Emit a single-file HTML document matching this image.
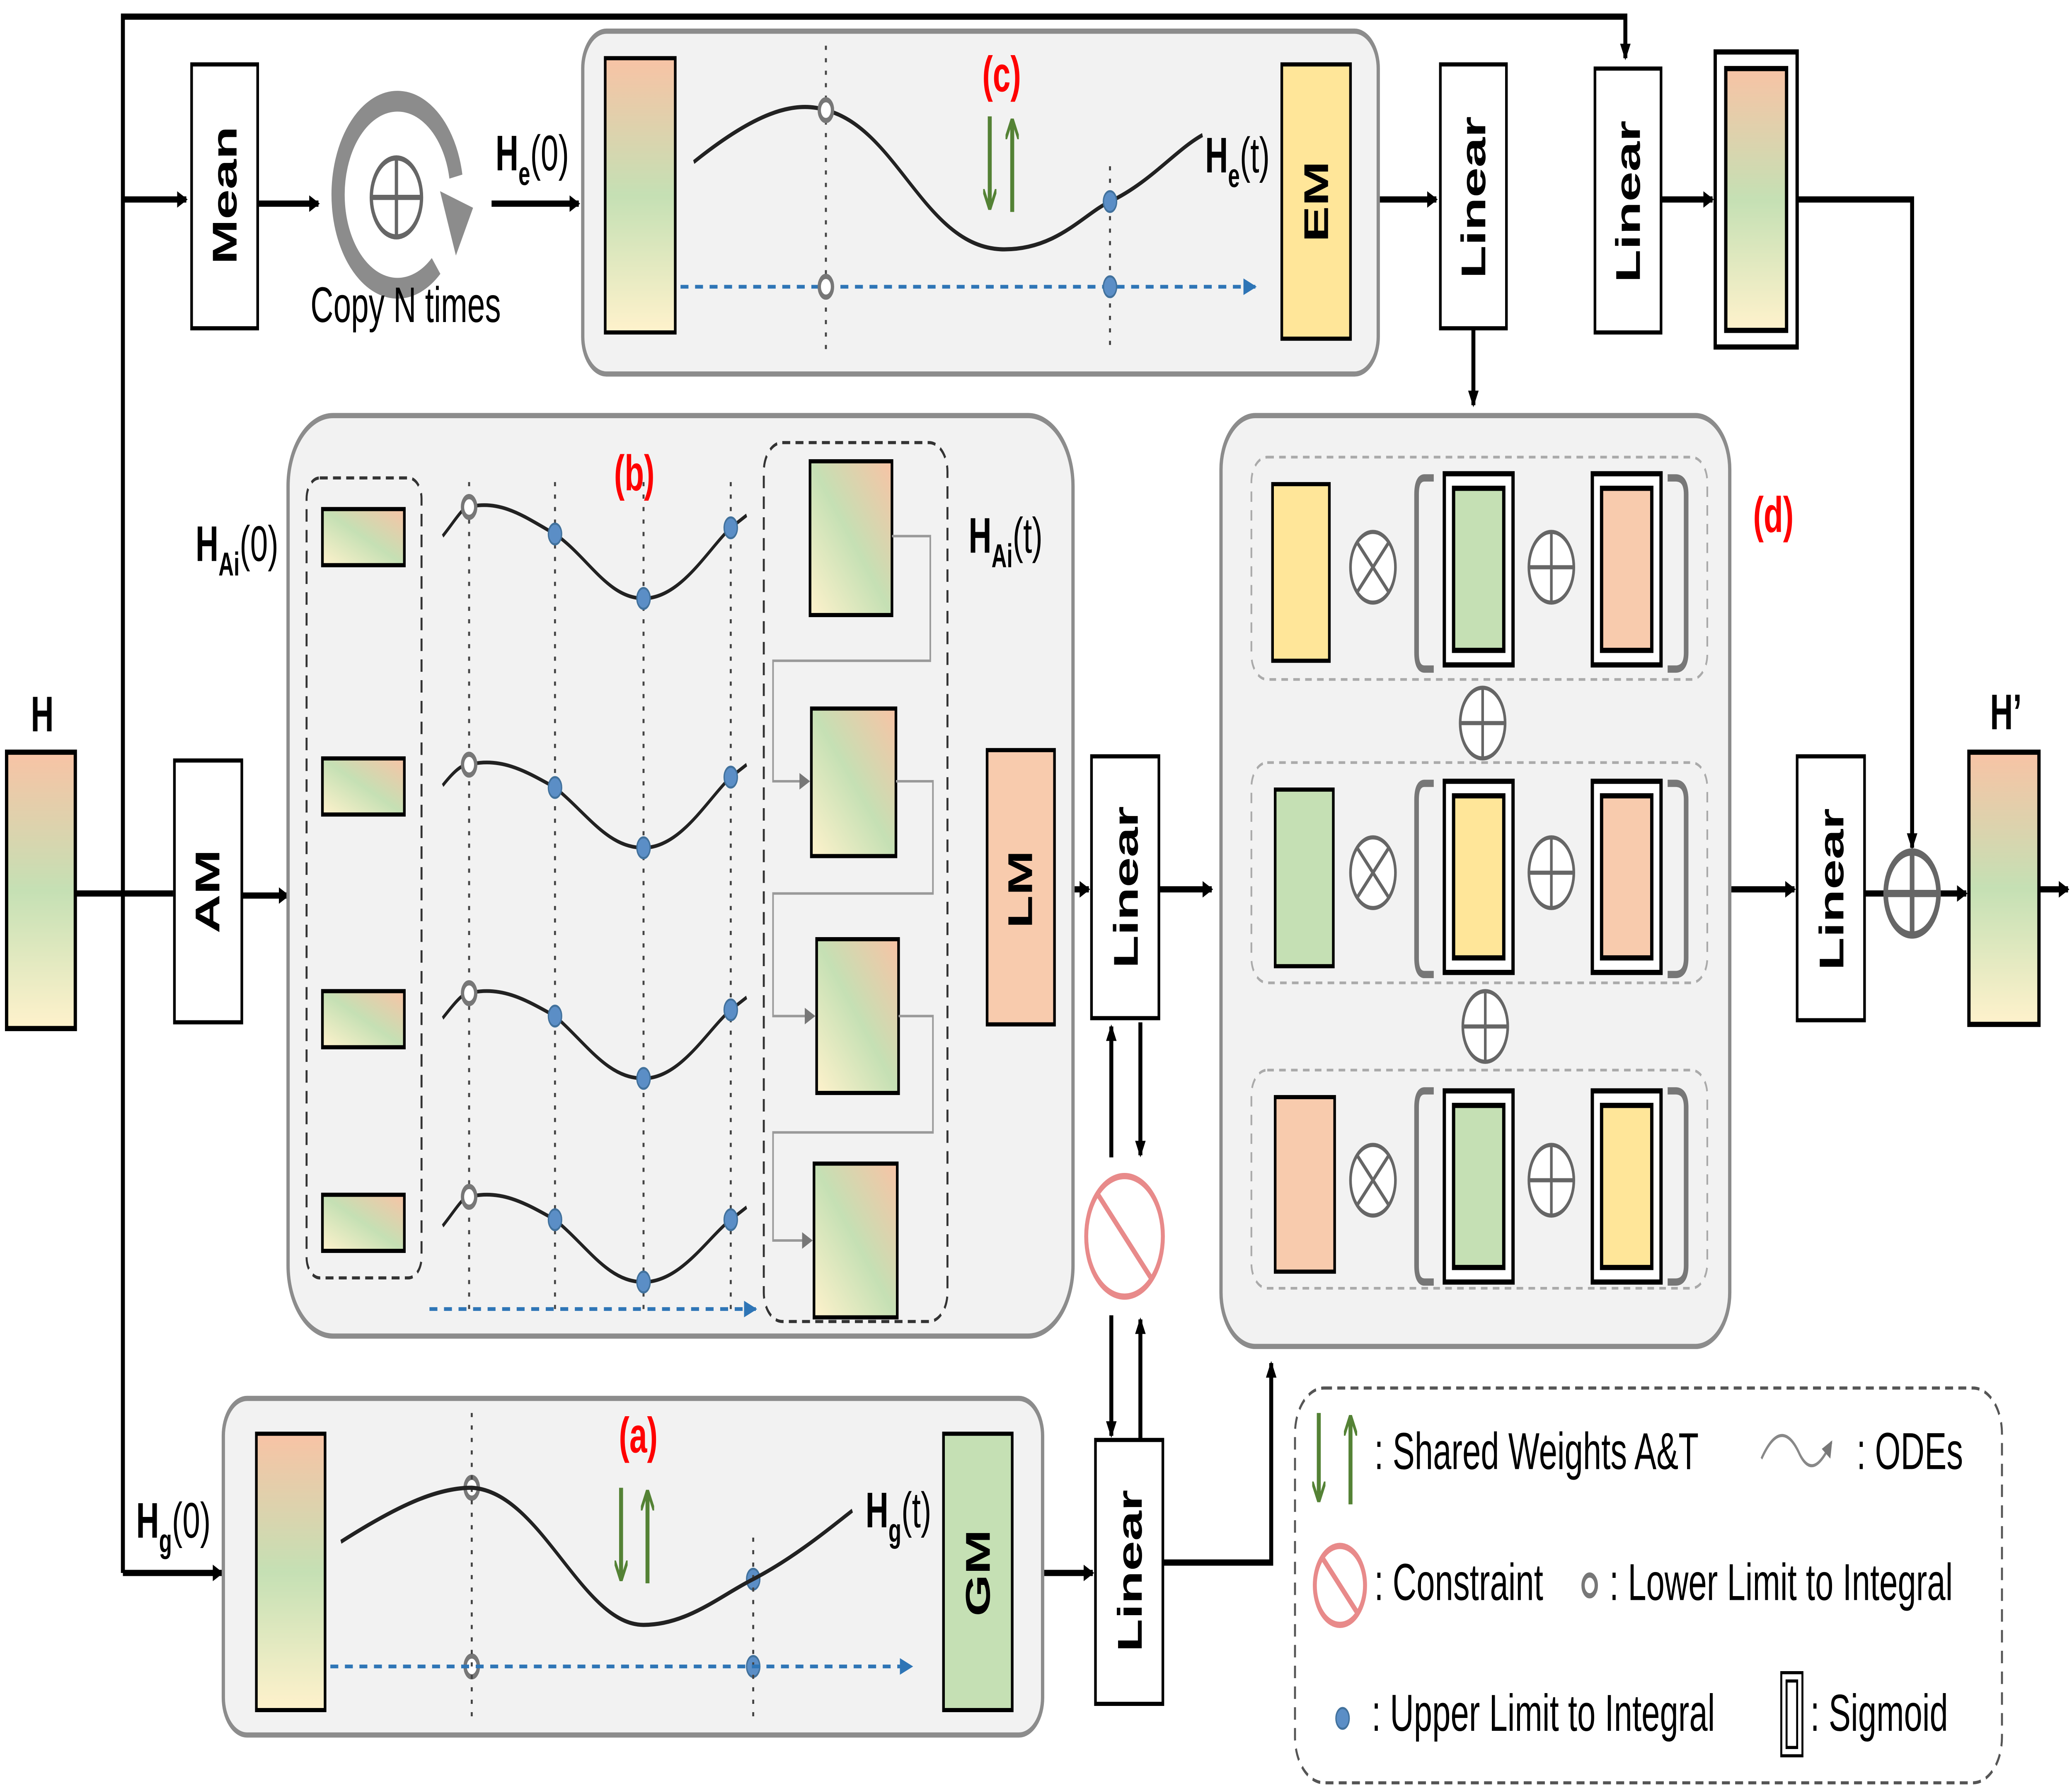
<!DOCTYPE html>
<html><head><meta charset="utf-8"><style>
html,body{margin:0;padding:0;background:#fff;width:100%;height:100%;overflow:hidden}
svg{display:block;width:100vw;height:100vh;position:absolute;left:0;top:0}
text{font-family:"Liberation Sans",sans-serif}
</style></head><body>
<svg viewBox="0 0 1568 860.5" preserveAspectRatio="none" xmlns="http://www.w3.org/2000/svg">
<defs>
<linearGradient id="g" x1="0" y1="0" x2="0" y2="1">
<stop offset="0" stop-color="#f8c3a5"/><stop offset="0.5" stop-color="#c5e0b4"/><stop offset="1" stop-color="#fff2cc"/></linearGradient>
<linearGradient id="gd" x1="1" y1="0" x2="0" y2="1">
<stop offset="0" stop-color="#f8c3a5"/><stop offset="0.5" stop-color="#c5e0b4"/><stop offset="1" stop-color="#fff2cc"/></linearGradient>
<marker id="a" markerWidth="8" markerHeight="8" refX="7" refY="4" orient="auto" markerUnits="userSpaceOnUse"><path d="M0,0 L8,4 L0,8z" fill="#000"/></marker>
<marker id="ab" markerWidth="10" markerHeight="8" refX="9" refY="4" orient="auto" markerUnits="userSpaceOnUse"><path d="M0,0 L10,4 L0,8z" fill="#2e75b6"/></marker>
<marker id="ag" markerWidth="8" markerHeight="8" refX="7" refY="4" orient="auto" markerUnits="userSpaceOnUse"><path d="M0,0 L8,4 L0,8z" fill="#777"/></marker>
<marker id="agr" markerWidth="10" markerHeight="10" refX="9" refY="5" orient="auto" markerUnits="userSpaceOnUse"><path d="M0,0 L10,5 L0,10" fill="none" stroke="#548235" stroke-width="2"/></marker>
</defs>
<g stroke="#000" stroke-width="3" fill="none">
<polyline points="93,757 93,8 1230,8 1230,28" marker-end="url(#a)"/>
<line x1="93" y1="96" x2="141" y2="96" marker-end="url(#a)"/>
<line x1="195" y1="98" x2="241" y2="98" marker-end="url(#a)"/>
<line x1="372" y1="98" x2="438" y2="98" marker-end="url(#a)"/>
<line x1="57" y1="430" x2="131" y2="430"/>
<line x1="183" y1="431" x2="218" y2="431" marker-end="url(#a)"/>
<line x1="93" y1="757" x2="168" y2="757" marker-end="url(#a)"/>
<line x1="1022" y1="96" x2="1087" y2="96" marker-end="url(#a)"/>
<line x1="1115" y1="158" x2="1115" y2="195" marker-end="url(#a)"/>
<line x1="1257" y1="96" x2="1296" y2="96" marker-end="url(#a)"/>
<polyline points="1360,96 1447,96 1447,408" marker-end="url(#a)"/>
<line x1="717" y1="428" x2="745" y2="428" marker-end="url(#a)"/>
<line x1="798" y1="428" x2="824" y2="428" marker-end="url(#a)"/>
<line x1="877" y1="428" x2="917" y2="428" marker-end="url(#a)"/>
<line x1="841" y1="557" x2="841" y2="494" marker-end="url(#a)"/>
<line x1="863" y1="492" x2="863" y2="556" marker-end="url(#a)"/>
<line x1="841" y1="633" x2="841" y2="691" marker-end="url(#a)"/>
<line x1="863" y1="693" x2="863" y2="635" marker-end="url(#a)"/>
<line x1="766" y1="757" x2="827" y2="757" marker-end="url(#a)"/>
<polyline points="880,752 962,752 962,656" marker-end="url(#a)"/>
<line x1="1302" y1="428" x2="1358" y2="428" marker-end="url(#a)"/>
<line x1="1411" y1="430" x2="1427" y2="430"/>
<line x1="1467" y1="430" x2="1488" y2="430" marker-end="url(#a)"/>
<line x1="1543" y1="428" x2="1565" y2="428" marker-end="url(#a)"/>
</g>
<rect x="441" y="15" width="602" height="165" rx="18" fill="#f2f2f2" stroke="#8c8c8c" stroke-width="2.5"/>
<rect x="218" y="200" width="594" height="443" rx="34" fill="#f2f2f2" stroke="#8c8c8c" stroke-width="2.5"/>
<rect x="169" y="673" width="620" height="162" rx="18" fill="#f2f2f2" stroke="#8c8c8c" stroke-width="2.5"/>
<rect x="924" y="200" width="385" height="448" rx="26" fill="#f2f2f2" stroke="#8c8c8c" stroke-width="2.5"/>
<rect x="980" y="668" width="535" height="190" rx="22" fill="#fff" stroke="#555" stroke-width="1.5" stroke-dasharray="6,4"/>
<rect x="5" y="362" width="52" height="133" fill="url(#g)" stroke="#000" stroke-width="2.5"/>
<rect x="1490" y="362" width="53" height="131" fill="url(#g)" stroke="#000" stroke-width="2.5"/>
<text x="32" y="352" font-size="24" font-weight="bold" text-anchor="middle">H</text>
<text x="1518" y="351" font-size="24" font-weight="bold" text-anchor="middle">H’</text>
<g fill="#fff" stroke="#000" stroke-width="2">
<rect x="145" y="31" width="50" height="127"/>
<rect x="132" y="366" width="51" height="126"/>
<rect x="1090" y="31" width="50" height="127"/>
<rect x="1207" y="33" width="50" height="127"/>
<rect x="826" y="364" width="51" height="126"/>
<rect x="829" y="693" width="51" height="127"/>
<rect x="1360" y="364" width="51" height="127"/>
</g>
<g font-size="26" font-weight="bold" text-anchor="middle">
<text transform="translate(179,94) rotate(-90)">Mean</text>
<text transform="translate(166,429) rotate(-90)">AM</text>
<text transform="translate(1124,95) rotate(-90)">Linear</text>
<text transform="translate(1241,97) rotate(-90)">Linear</text>
<text transform="translate(861,427) rotate(-90)">Linear</text>
<text transform="translate(864,756) rotate(-90)">Linear</text>
<text transform="translate(1395,428) rotate(-90)">Linear</text>
</g>
<path d="M330,128 A45,45 0 1 1 345,85" fill="none" stroke="#8c8c8c" stroke-width="10"/>
<path d="M333,92 L358,100 L345,123z" fill="#8c8c8c"/>
<circle cx="300" cy="95" r="19" fill="#fff" stroke="#666" stroke-width="2.5"/>
<path d="M281,95 H319 M300,76 V114" stroke="#666" stroke-width="2.5"/>
<text x="307" y="155" font-size="24" text-anchor="middle">Copy N times</text>
<text x="375" y="82" font-size="24" font-weight="bold">H<tspan font-size="16" dy="7">e</tspan><tspan dy="-7" font-weight="normal">(0)</tspan></text>
<rect x="458" y="28" width="53" height="132" fill="url(#g)" stroke="#000" stroke-width="2"/>
<g stroke="#444" stroke-width="1.5" stroke-dasharray="2,4"><line x1="625" y1="22" x2="625" y2="170"/><line x1="840" y1="80" x2="840" y2="170"/></g>
<path d="M525,78 C570,55 600,48 625,53 C680,62 700,120 760,120 C800,120 820,103 840,97 C870,88 890,72 910,65" fill="none" stroke="#222" stroke-width="2"/>
<line x1="515" y1="138" x2="950" y2="138" stroke="#2e75b6" stroke-width="1.8" stroke-dasharray="6,5" marker-end="url(#ab)"/>
<text x="758" y="44" font-size="24" font-weight="bold" fill="#ff0000" text-anchor="middle">(c)</text>
<g stroke="#548235" stroke-width="3"><line x1="749" y1="56" x2="749" y2="100" marker-end="url(#agr)"/><line x1="766" y1="102" x2="766" y2="58" marker-end="url(#agr)"/></g>
<text x="912" y="83" font-size="24" font-weight="bold">H<tspan font-size="16" dy="7">e</tspan><tspan dy="-7" font-weight="normal">(t)</tspan></text>
<rect x="970" y="31" width="52" height="132" fill="#ffe699" stroke="#000" stroke-width="2"/>
<text transform="translate(1005,97) rotate(-90)" font-size="26" font-weight="bold" text-anchor="middle">EM</text>
<text x="480" y="236" font-size="24" font-weight="bold" fill="#ff0000" text-anchor="middle">(b)</text>
<rect x="232" y="230" width="87" height="385" rx="10" fill="none" stroke="#333" stroke-width="1.5" stroke-dasharray="6,4"/>
<rect x="578" y="213" width="139" height="423" rx="14" fill="none" stroke="#333" stroke-width="1.5" stroke-dasharray="6,4"/>
<g fill="url(#gd)" stroke="#000" stroke-width="2">
<rect x="244" y="245" width="62" height="27"/><rect x="244" y="365" width="62" height="27"/><rect x="244" y="477" width="62" height="27"/><rect x="244" y="575" width="62" height="27"/>
<rect x="613" y="222" width="62" height="74"/><rect x="614" y="341" width="64" height="71"/><rect x="618" y="452" width="62" height="74"/><rect x="616" y="560" width="63" height="74"/>
</g>
<g stroke="#999" stroke-width="1.2" fill="none">
<polyline points="675,258 704,258 704,318 585,318 585,376 612,376" marker-end="url(#ag)"/>
<polyline points="678,376 706,376 706,430 585,430 585,489 616,489" marker-end="url(#ag)"/>
<polyline points="680,489 706,489 706,545 585,545 585,597 614,597" marker-end="url(#ag)"/>
</g>
<g stroke="#444" stroke-width="1.5" stroke-dasharray="2,4"><line x1="355" y1="232" x2="355" y2="630"/><line x1="420" y1="232" x2="420" y2="630"/><line x1="487" y1="232" x2="487" y2="630"/><line x1="553" y1="232" x2="553" y2="630"/></g>
<g fill="none" stroke="#222" stroke-width="1.8">
<path d="M335,258 C345,250 350,244 355,244 C380,240 400,250 420,257 C445,268 460,288 487,288 C515,288 535,265 553,254 L565,248"/>
<path d="M335,378 C345,370 350,368 355,368 C380,364 400,372 420,379 C445,392 460,408 487,408 C515,408 535,385 553,374 L565,368"/>
<path d="M335,490 C345,482 350,478 355,478 C380,474 400,482 420,489 C445,503 460,519 487,519 C515,519 535,496 553,486 L565,480"/>
<path d="M335,590 C345,582 350,576 355,576 C380,572 400,580 420,587 C445,600 460,617 487,617 C515,617 535,596 553,587 L565,581"/>
</g>
<line x1="325" y1="630" x2="572" y2="630" stroke="#2e75b6" stroke-width="1.8" stroke-dasharray="6,5" marker-end="url(#ab)"/>
<text x="148" y="270" font-size="24" font-weight="bold">H<tspan font-size="16" dy="7">Ai</tspan><tspan dy="-7" font-weight="normal">(0)</tspan></text>
<text x="733" y="266" font-size="24" font-weight="bold">H<tspan font-size="16" dy="7">Ai</tspan><tspan dy="-7" font-weight="normal">(t)</tspan></text>
<rect x="747" y="361" width="51" height="132" fill="#f8cbad" stroke="#000" stroke-width="2"/>
<text transform="translate(781,428) rotate(-90)" font-size="26" font-weight="bold" text-anchor="middle">LM</text>
<g fill="#fff" stroke="#777" stroke-width="2.5">
<circle cx="625" cy="53" r="5"/><circle cx="625" cy="138" r="5"/>
<circle cx="355" cy="244" r="5"/><circle cx="355" cy="368" r="5"/><circle cx="355" cy="478" r="5"/><circle cx="355" cy="576" r="5"/>
<circle cx="357" cy="716" r="5"/><circle cx="357" cy="802" r="5"/>
<circle cx="1203" cy="763" r="5"/>
</g>
<g fill="#5b8ec6" stroke="#41719c" stroke-width="1">
<circle cx="840" cy="97" r="5"/><circle cx="840" cy="138" r="5"/>
<circle cx="420" cy="257" r="5"/><circle cx="487" cy="288" r="5"/><circle cx="553" cy="254" r="5"/>
<circle cx="420" cy="379" r="5"/><circle cx="487" cy="408" r="5"/><circle cx="553" cy="374" r="5"/>
<circle cx="420" cy="489" r="5"/><circle cx="487" cy="519" r="5"/><circle cx="553" cy="486" r="5"/>
<circle cx="420" cy="587" r="5"/><circle cx="487" cy="617" r="5"/><circle cx="553" cy="587" r="5"/>
<circle cx="570" cy="760" r="5"/><circle cx="570" cy="802" r="5"/>
<circle cx="1016" cy="827" r="5"/>
</g>
<circle cx="851" cy="595" r="29" fill="#fff" stroke="#e88a8a" stroke-width="3"/>
<line x1="831" y1="575" x2="871" y2="615" stroke="#e88a8a" stroke-width="3"/>
<rect x="194" y="690" width="52" height="133" fill="url(#g)" stroke="#000" stroke-width="2"/>
<g stroke="#444" stroke-width="1.5" stroke-dasharray="2,4"><line x1="357" y1="680" x2="357" y2="826"/><line x1="570" y1="740" x2="570" y2="826"/></g>
<path d="M258,742 C300,725 330,716 357,716 C410,718 440,782 487,782 C520,782 545,768 570,760 C600,750 625,737 645,727" fill="none" stroke="#222" stroke-width="2"/>
<line x1="250" y1="802" x2="690" y2="802" stroke="#2e75b6" stroke-width="1.8" stroke-dasharray="6,5" marker-end="url(#ab)"/>
<text x="483" y="699" font-size="24" font-weight="bold" fill="#ff0000" text-anchor="middle">(a)</text>
<g stroke="#548235" stroke-width="3"><line x1="470" y1="716" x2="470" y2="760" marker-end="url(#agr)"/><line x1="490" y1="762" x2="490" y2="718" marker-end="url(#agr)"/></g>
<text x="655" y="735" font-size="24" font-weight="bold">H<tspan font-size="16" dy="7">g</tspan><tspan dy="-7" font-weight="normal">(t)</tspan></text>
<text x="103" y="740" font-size="24" font-weight="bold">H<tspan font-size="16" dy="7">g</tspan><tspan dy="-7" font-weight="normal">(0)</tspan></text>
<rect x="714" y="690" width="52" height="133" fill="#c5e0b4" stroke="#000" stroke-width="2"/>
<text transform="translate(749,757) rotate(-90)" font-size="26" font-weight="bold" text-anchor="middle">GM</text>
<text x="1342" y="256" font-size="24" font-weight="bold" fill="#ff0000" text-anchor="middle">(d)</text>
<g fill="none" stroke="#aaa" stroke-width="1.3" stroke-dasharray="5,4">
<rect x="947" y="220" width="345" height="107" rx="12"/><rect x="947" y="367" width="345" height="106" rx="12"/><rect x="947" y="515" width="345" height="105" rx="12"/>
</g>
<g stroke="#000" stroke-width="2">
<rect x="963" y="233" width="43" height="85" fill="#ffe699"/>
<rect x="965" y="380" width="44" height="85" fill="#c5e0b4"/>
<rect x="965" y="528" width="45" height="84" fill="#f8cbad"/>
</g>
<g stroke="#000" stroke-width="2.5">
<rect x="1093" y="228" width="52" height="92" fill="#fff"/><rect x="1100" y="235" width="38" height="78" fill="#c5e0b4"/>
<rect x="1205" y="228" width="52" height="92" fill="#fff"/><rect x="1212" y="235" width="38" height="78" fill="#f8cbad"/>
<rect x="1093" y="376" width="52" height="92" fill="#fff"/><rect x="1100" y="383" width="38" height="78" fill="#ffe699"/>
<rect x="1205" y="376" width="52" height="92" fill="#fff"/><rect x="1212" y="383" width="38" height="78" fill="#f8cbad"/>
<rect x="1093" y="525" width="52" height="92" fill="#fff"/><rect x="1100" y="532" width="38" height="78" fill="#c5e0b4"/>
<rect x="1205" y="525" width="52" height="92" fill="#fff"/><rect x="1212" y="532" width="38" height="78" fill="#ffe699"/>
<rect x="1298" y="25" width="62" height="142" fill="#fff"/><rect x="1306" y="33" width="46" height="126" fill="url(#g)"/>
<rect x="1348" y="805" width="16" height="40" fill="#fff" stroke-width="1.5"/><rect x="1352" y="809" width="8" height="32" fill="#fff" stroke-width="1.5"/>
</g>
<g fill="none" stroke="#777" stroke-width="3.5">
<path d="M1085,230 H1078 Q1072,230 1072,238 V314 Q1072,322 1078,322 H1085"/><path d="M1262,230 H1268 Q1276,230 1276,238 V314 Q1276,322 1268,322 H1262"/>
<path d="M1085,377 H1078 Q1072,377 1072,385 V461 Q1072,469 1078,469 H1085"/><path d="M1262,377 H1268 Q1276,377 1276,385 V461 Q1276,469 1268,469 H1262"/>
<path d="M1085,525 H1078 Q1072,525 1072,533 V609 Q1072,617 1078,617 H1085"/><path d="M1262,525 H1268 Q1276,525 1276,533 V609 Q1276,617 1268,617 H1262"/>
</g>
<g fill="#fff" stroke="#666" stroke-width="2">
<circle cx="1039" cy="273" r="17"/><path d="M1027,261 L1051,285 M1051,261 L1027,285"/>
<circle cx="1039" cy="420" r="17"/><path d="M1027,408 L1051,432 M1051,408 L1027,432"/>
<circle cx="1039" cy="568" r="17"/><path d="M1027,556 L1051,580 M1051,556 L1027,580"/>
<circle cx="1174" cy="273" r="17"/><path d="M1157,273 H1191 M1174,256 V290"/>
<circle cx="1174" cy="420" r="17"/><path d="M1157,420 H1191 M1174,403 V437"/>
<circle cx="1174" cy="568" r="17"/><path d="M1157,568 H1191 M1174,551 V585"/>
<circle cx="1122" cy="348" r="17"/><path d="M1105,348 H1139 M1122,331 V365"/>
<circle cx="1124" cy="494" r="17"/><path d="M1107,494 H1141 M1124,477 V511"/>
</g>
<circle cx="1447" cy="430" r="20" fill="#fff" stroke="#666" stroke-width="3.5"/>
<path d="M1427,430 H1467 M1447,410 V450" stroke="#666" stroke-width="3.5"/>
<g stroke="#548235" stroke-width="3"><line x1="998" y1="680" x2="998" y2="722" marker-end="url(#agr)"/><line x1="1022" y1="724" x2="1022" y2="682" marker-end="url(#agr)"/></g>
<g font-size="25" fill="#000">
<text x="1040" y="707">: Shared Weights  A&amp;T</text>
<text x="1405" y="707">: ODEs</text>
<text x="1040" y="770">: Constraint</text>
<text x="1218" y="770">: Lower Limit to Integral</text>
<text x="1038" y="833">: Upper Limit to Integral</text>
<text x="1370" y="833">: Sigmoid</text>
</g>
<path d="M1333,702 C1345,685 1355,690 1362,700 C1370,710 1378,705 1386,694" fill="none" stroke="#888" stroke-width="1.5" marker-end="url(#ag)"/>
<circle cx="1014" cy="763" r="19" fill="#fff" stroke="#e88a8a" stroke-width="3"/>
<line x1="1001" y1="750" x2="1027" y2="776" stroke="#e88a8a" stroke-width="3"/>
</svg>
</body></html>
